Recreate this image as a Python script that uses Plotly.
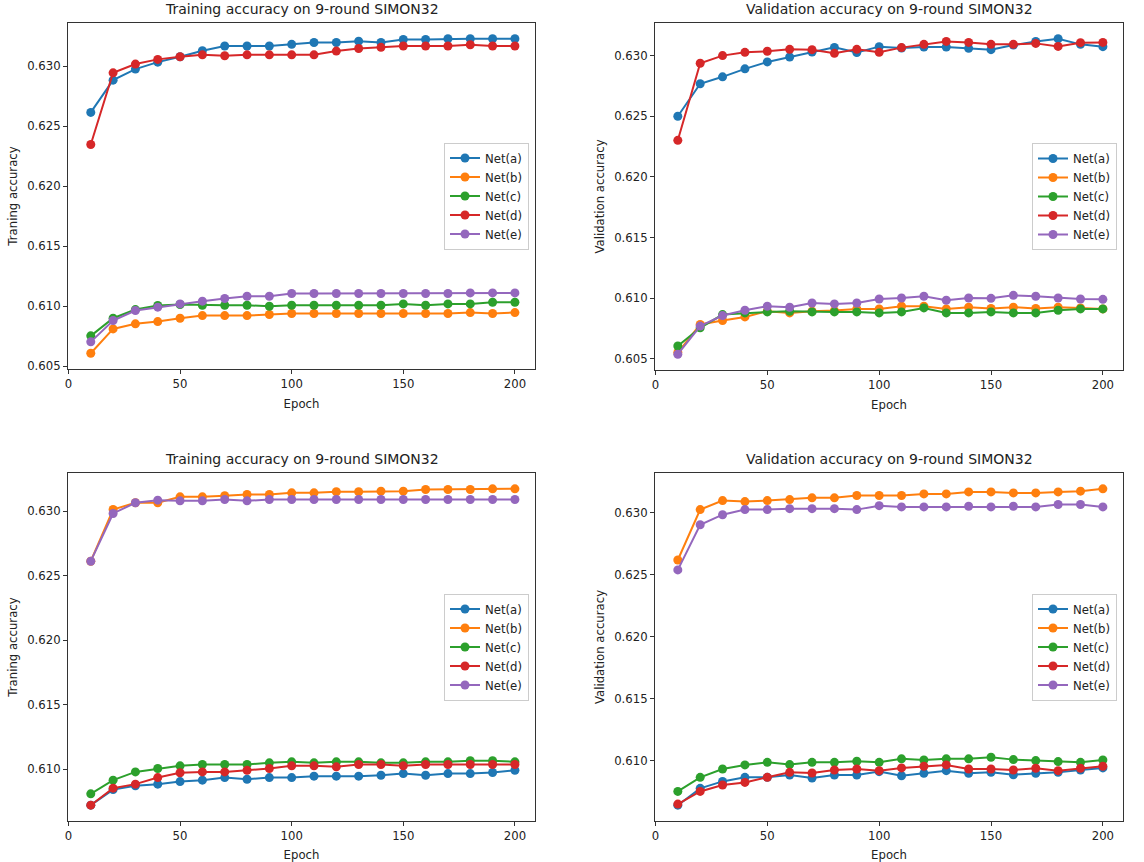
import plotly.graph_objects as go
from plotly.subplots import make_subplots

epochs = list(range(10, 201, 10))
net_names = ["Net(a)", "Net(b)", "Net(c)", "Net(d)", "Net(e)"]
colors = ["#1f77b4", "#ff7f0e", "#2ca02c", "#d62728", "#9467bd"]

# panel 1: training accuracy (top left)
train1_a = [0.62614, 0.62883, 0.62975, 0.63033, 0.63078, 0.63128, 0.63167, 0.63167, 0.63167, 0.63181,
            0.63197, 0.63197, 0.63208, 0.63197, 0.63222, 0.63222, 0.63228, 0.63228, 0.63228, 0.63228]
train1_b = [0.60608, 0.60811, 0.60853, 0.60872, 0.60900, 0.60922, 0.60922, 0.60922, 0.60931, 0.60939,
            0.60939, 0.60939, 0.60939, 0.60939, 0.60939, 0.60939, 0.60939, 0.60947, 0.60939, 0.60947]
train1_c = [0.60753, 0.60900, 0.60972, 0.61006, 0.61014, 0.61008, 0.61008, 0.61008, 0.61000, 0.61008,
            0.61008, 0.61008, 0.61008, 0.61008, 0.61019, 0.61008, 0.61019, 0.61019, 0.61033, 0.61033]
train1_d = [0.62347, 0.62944, 0.63017, 0.63056, 0.63078, 0.63094, 0.63086, 0.63094, 0.63094, 0.63094,
            0.63094, 0.63125, 0.63147, 0.63156, 0.63167, 0.63167, 0.63167, 0.63178, 0.63167, 0.63167]
train1_e = [0.60703, 0.60881, 0.60964, 0.60992, 0.61019, 0.61042, 0.61064, 0.61083, 0.61083, 0.61106,
            0.61106, 0.61106, 0.61106, 0.61106, 0.61106, 0.61106, 0.61106, 0.61111, 0.61111, 0.61111]

# panel 2: validation accuracy (top right)
val1_a = [0.62500, 0.62768, 0.62825, 0.62891, 0.62948, 0.62989, 0.63030, 0.63068, 0.63025, 0.63074,
          0.63063, 0.63071, 0.63071, 0.63060, 0.63049, 0.63087, 0.63117, 0.63139, 0.63093, 0.63074]
val1_b = [0.60550, 0.60781, 0.60814, 0.60844, 0.60891, 0.60877, 0.60891, 0.60896, 0.60910, 0.60910,
          0.60932, 0.60932, 0.60910, 0.60924, 0.60913, 0.60924, 0.60913, 0.60924, 0.60918, 0.60910]
val1_c = [0.60604, 0.60754, 0.60863, 0.60877, 0.60885, 0.60891, 0.60885, 0.60885, 0.60885, 0.60877,
          0.60885, 0.60918, 0.60877, 0.60877, 0.60885, 0.60877, 0.60877, 0.60899, 0.60910, 0.60910]
val1_d = [0.62301, 0.62937, 0.63000, 0.63027, 0.63036, 0.63052, 0.63049, 0.63019, 0.63052, 0.63027,
          0.63066, 0.63093, 0.63117, 0.63109, 0.63093, 0.63093, 0.63101, 0.63076, 0.63107, 0.63109]
val1_e = [0.60536, 0.60768, 0.60855, 0.60899, 0.60932, 0.60924, 0.60959, 0.60951, 0.60959, 0.60992,
          0.61000, 0.61014, 0.60981, 0.61000, 0.60997, 0.61022, 0.61014, 0.61000, 0.60992, 0.60989]

# panel 3: training accuracy (bottom left)
train2_a = [0.60721, 0.60842, 0.60871, 0.60884, 0.60904, 0.60915, 0.60935, 0.60922, 0.60935, 0.60935,
            0.60946, 0.60946, 0.60946, 0.60953, 0.60966, 0.60953, 0.60966, 0.60966, 0.60974, 0.60992]
train2_b = [0.62612, 0.63013, 0.63065, 0.63065, 0.63111, 0.63111, 0.63119, 0.63129, 0.63129, 0.63142,
            0.63142, 0.63150, 0.63150, 0.63155, 0.63155, 0.63168, 0.63168, 0.63168, 0.63173, 0.63173]
train2_c = [0.60809, 0.60915, 0.60979, 0.61005, 0.61026, 0.61036, 0.61036, 0.61036, 0.61049, 0.61057,
            0.61049, 0.61057, 0.61057, 0.61049, 0.61049, 0.61057, 0.61057, 0.61065, 0.61065, 0.61057]
train2_d = [0.60721, 0.60853, 0.60884, 0.60935, 0.60972, 0.60979, 0.60979, 0.60992, 0.61005, 0.61026,
            0.61026, 0.61018, 0.61036, 0.61036, 0.61026, 0.61036, 0.61036, 0.61036, 0.61036, 0.61036]
train2_e = [0.62612, 0.62982, 0.63065, 0.63085, 0.63080, 0.63080, 0.63090, 0.63080, 0.63090, 0.63090,
            0.63090, 0.63090, 0.63090, 0.63090, 0.63090, 0.63090, 0.63090, 0.63090, 0.63090, 0.63090]

# panel 4: validation accuracy (bottom right)
val2_a = [0.60640, 0.60776, 0.60832, 0.60865, 0.60865, 0.60884, 0.60859, 0.60884, 0.60884, 0.60911,
          0.60878, 0.60897, 0.60919, 0.60897, 0.60905, 0.60886, 0.60897, 0.60905, 0.60924, 0.60941]
val2_b = [0.62620, 0.63027, 0.63100, 0.63092, 0.63100, 0.63108, 0.63122, 0.63122, 0.63141, 0.63141,
          0.63141, 0.63154, 0.63154, 0.63170, 0.63170, 0.63162, 0.63162, 0.63170, 0.63176, 0.63195]
val2_c = [0.60751, 0.60865, 0.60932, 0.60965, 0.60986, 0.60968, 0.60986, 0.60986, 0.60995, 0.60986,
          0.61014, 0.61005, 0.61014, 0.61014, 0.61027, 0.61008, 0.61000, 0.60992, 0.60986, 0.61005]
val2_d = [0.60649, 0.60751, 0.60803, 0.60824, 0.60865, 0.60905, 0.60900, 0.60924, 0.60932, 0.60919,
          0.60941, 0.60954, 0.60965, 0.60932, 0.60932, 0.60924, 0.60938, 0.60919, 0.60938, 0.60954]
val2_e = [0.62540, 0.62905, 0.62986, 0.63027, 0.63027, 0.63035, 0.63035, 0.63035, 0.63027, 0.63059,
          0.63049, 0.63049, 0.63049, 0.63054, 0.63049, 0.63054, 0.63049, 0.63068, 0.63068, 0.63049]

panels = [
    ("Training accuracy on 9-round SIMON32", "Traning accuracy",
     [train1_a, train1_b, train1_c, train1_d, train1_e]),
    ("Validation accuracy on 9-round SIMON32", "Validation accuracy",
     [val1_a, val1_b, val1_c, val1_d, val1_e]),
    ("Training accuracy on 9-round SIMON32", "Traning accuracy",
     [train2_a, train2_b, train2_c, train2_d, train2_e]),
    ("Validation accuracy on 9-round SIMON32", "Validation accuracy",
     [val2_a, val2_b, val2_c, val2_d, val2_e]),
]

W, H = 1144, 862
FONT = "DejaVu Sans"

# axes boxes in pixels (left, right, top, bottom)
boxes = [(68, 535, 23, 369), (655, 1123, 23, 370), (68, 535, 473, 821), (655, 1123, 473, 821)]

fig = make_subplots(rows=2, cols=2)

for i, (title, ylabel, series) in enumerate(panels):
    row, col = i // 2 + 1, i % 2 + 1
    legend_id = "legend" if i == 0 else f"legend{i + 1}"
    for name, color, ys in zip(net_names, colors, series):
        fig.add_trace(go.Scatter(
            x=epochs, y=ys, name=name, mode="lines+markers",
            line=dict(color=color, width=2),
            marker=dict(color=color, size=9),
            legend=legend_id,
        ), row=row, col=col)

    l, r, t, b = boxes[i]
    xdom = [l / W, r / W]
    ydom = [1 - b / H, 1 - t / H]
    allv = [v for s in series for v in s]
    lo, hi = min(allv), max(allv)
    pad = (hi - lo) * 0.05

    axis_common = dict(
        showline=True, linecolor="#333333", linewidth=1, mirror=True,
        ticks="outside", ticklen=4, tickcolor="#333333",
        showgrid=False, zeroline=False, automargin=False,
        tickfont=dict(family=FONT, size=11.7, color="#222222"),
    )
    fig.update_xaxes(domain=xdom, range=[-0.2, 209], dtick=50, tick0=0,
                     title=dict(text="Epoch", font=dict(family=FONT, size=11.7, color="#222222"), standoff=9),
                     row=row, col=col, **axis_common)
    fig.update_yaxes(domain=ydom, range=[lo - pad, hi + pad], dtick=0.005, tick0=0.6, tickformat=".3f",
                     title=dict(text=ylabel, font=dict(family=FONT, size=11.7, color="#222222"), standoff=7),
                     row=row, col=col, **axis_common)

    fig.add_annotation(
        text=title, xref="paper", yref="paper",
        x=(l + r) / 2 / W, y=1 - (t - 4) / H, xanchor="center", yanchor="bottom",
        showarrow=False, font=dict(family=FONT, size=14, color="#222222"),
    )

    fig.update_layout({legend_id: dict(
        x=(r - 6) / W, y=1 - ((t + b) / 2) / H, xanchor="right", yanchor="middle",
        xref="paper", yref="paper",
        bgcolor="rgba(255,255,255,0.8)", bordercolor="#cccccc", borderwidth=1,
        font=dict(family=FONT, size=11.7, color="#222222"),
        itemwidth=30, tracegroupgap=0,
    )})

fig.update_layout(
    width=W, height=H,
    margin=dict(l=0, r=0, t=0, b=0),
    paper_bgcolor="white", plot_bgcolor="white",
    font=dict(family=FONT, color="#222222"),
)

# the page body has a default 8px margin; drop it so the figure fills the window
fig.write_html("out.html", config={"displayModeBar": False},
               post_script="document.body.style.margin='0px';")
